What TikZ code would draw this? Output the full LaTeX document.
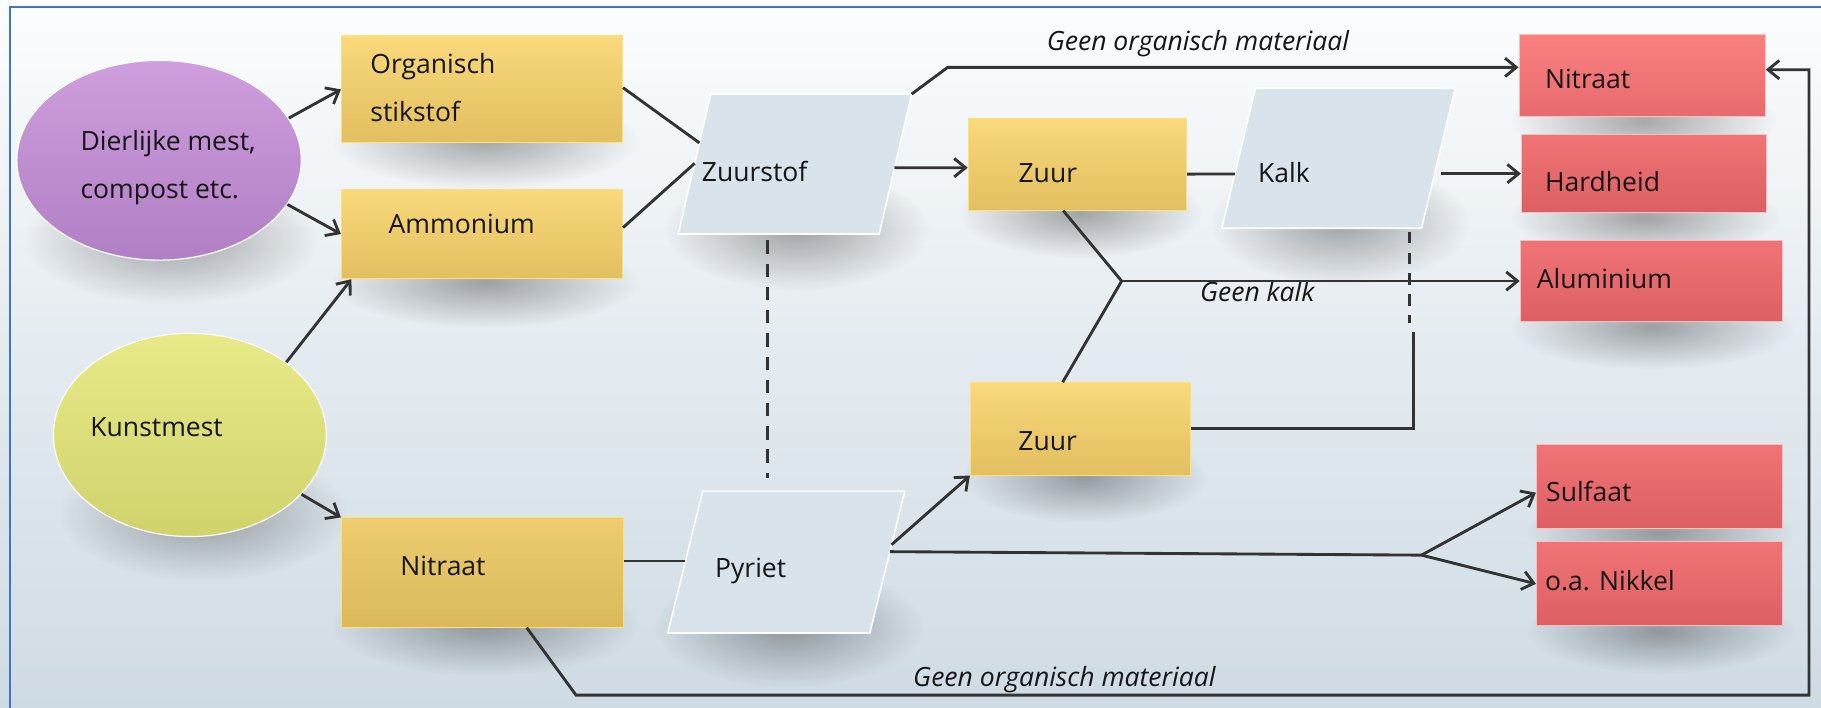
\documentclass[tikz,border=0pt]{standalone}
\usepackage{fontspec}
\setmainfont{Open Sans}
\usetikzlibrary{shapes.geometric,arrows.meta,fadings,calc}

\definecolor{bgtop}{HTML}{FCFDFE}
\definecolor{bgmid}{HTML}{E4EBF0}
\definecolor{bgbot}{HTML}{CFDBE4}
\definecolor{yeltop}{HTML}{F9D97C}
\definecolor{yelbot}{HTML}{E2BF60}
\definecolor{ydarktop}{HTML}{EDCD70}
\definecolor{ydarkbot}{HTML}{DAB95B}
\definecolor{redtop}{HTML}{F07476}
\definecolor{redbot}{HTML}{DC5F63}
\definecolor{redltop}{HTML}{FA8080}
\definecolor{redlbot}{HTML}{E76B6E}
\definecolor{paracol}{HTML}{D8E3EB}
\definecolor{purtop}{HTML}{CE9EDE}
\definecolor{purbot}{HTML}{B17FC4}
\definecolor{grntop}{HTML}{E8EA88}
\definecolor{grnbot}{HTML}{D0D26C}
\definecolor{lncol}{HTML}{333333}
\definecolor{framecol}{HTML}{4472C4}
\definecolor{txtcol}{HTML}{161616}

\tikzfading[name=softshadow, inner color=transparent!0, outer color=transparent!100]

\begin{document}
\begin{tikzpicture}[x=0.02cm, y=-0.02cm,
  txt/.style={anchor=base west, inner sep=0pt, text=txtcol, font=\fontsize{13pt}{15pt}\selectfont},
  itx/.style={txt, font=\fontsize{13pt}{15pt}\selectfont\itshape},
  shd/.style={fill=black, opacity=0.32, path fading=softshadow},
  ybox/.style={rectangle, draw=white!60!yellow!80!orange, line width=0.5pt, top color=yeltop, bottom color=yelbot, inner sep=0pt},
  rbox/.style={rectangle, draw=white!75!red, line width=0.5pt, top color=redtop, bottom color=redbot, inner sep=0pt},
  para/.style={fill=paracol, draw=white, line width=0.8pt, line join=miter},
  ell/.style={ellipse, draw=white, line width=0.6pt, inner sep=0pt},
  conn/.style={draw=lncol, line width=1.4pt},
  arr/.style={conn, -{Straight Barb[length=5.5pt, width=9pt]}},
]
\useasboundingbox (0,0) rectangle (1568,609);
\shade[top color=bgtop, bottom color=bgbot, middle color=bgmid] (0,0) rectangle (1568,609);
\draw[framecol, line width=1.1pt] (8.6,615) -- (8.6,5.7) -- (1575,5.7);

% soft shadows
\fill[shd] (20,150) rectangle (275,262);
\fill[shd] (50,385) rectangle (300,500);
\fill[shd] (285,80) rectangle (550,162);
\fill[shd] (285,205) rectangle (550,282);
\fill[shd] (285,495) rectangle (550,582);
\fill[shd] (825,145) rectangle (1035,222);
\fill[shd] (828,372) rectangle (1040,450);
\fill[shd] (572,145) rectangle (800,250);
\fill[shd] (1042,140) rectangle (1266,245);
\fill[shd] (563,488) rectangle (795,592);
\fill[shd] (1300,68) rectangle (1530,140);
\fill[shd] (1300,153) rectangle (1532,222);
\fill[shd] (1300,245) rectangle (1545,318);
\fill[shd] (1314,422) rectangle (1545,495);
\fill[shd] (1314,506) rectangle (1545,580);

% ellipses
\node[ell, top color=purtop, bottom color=purbot, minimum width=245*0.02cm, minimum height=172*0.02cm] (dier) at (137,138) {};
\node[ell, top color=grntop, bottom color=grnbot, minimum width=235*0.02cm, minimum height=175*0.02cm] (kunst) at (163.5,374.5) {};

% yellow boxes
\node[ybox, minimum width=242*0.02cm, minimum height=92*0.02cm] (org) at (415,77) {};
\node[ybox, minimum width=242*0.02cm, minimum height=77*0.02cm] (amm) at (415,201.5) {};
\node[ybox, top color=ydarktop, bottom color=ydarkbot, minimum width=243*0.02cm, minimum height=94*0.02cm] (nityel) at (415.5,493) {};
\node[ybox, minimum width=188*0.02cm, minimum height=79*0.02cm] (zuur1) at (927.7,141.4) {};
\node[ybox, minimum width=189.4*0.02cm, minimum height=79.5*0.02cm] (zuur2) at (930.3,369.3) {};

% parallelograms (corner coordinates)
\coordinate (zs-bl) at (584,201.5); \coordinate (zs-br) at (757,201.5);
\coordinate (zs-tr) at (785,81);    \coordinate (zs-tl) at (612,81);
\coordinate (ka-bl) at (1052,196.5); \coordinate (ka-br) at (1224,196.5);
\coordinate (ka-tr) at (1253,76);    \coordinate (ka-tl) at (1081,76);
\coordinate (py-bl) at (575,545); \coordinate (py-br) at (749,545);
\coordinate (py-tr) at (779,423); \coordinate (py-tl) at (605,423);
\path[para] (zs-bl) -- (zs-br) -- (zs-tr) -- (zs-tl) -- cycle;
\path[para] (ka-bl) -- (ka-br) -- (ka-tr) -- (ka-tl) -- cycle;
\path[para] (py-bl) -- (py-br) -- (py-tr) -- (py-tl) -- cycle;

% red boxes
\node[rbox, top color=redltop, bottom color=redlbot, minimum width=212*0.02cm, minimum height=70*0.02cm] (nitred) at (1414,65) {};
\node[rbox, minimum width=211*0.02cm, minimum height=67*0.02cm] (hard) at (1415.5,149.5) {};
\node[rbox, minimum width=226*0.02cm, minimum height=70*0.02cm] (alu) at (1422,242) {};
\node[rbox, minimum width=212*0.02cm, minimum height=72.5*0.02cm] (sulf) at (1429,419.2) {};
\node[rbox, minimum width=212*0.02cm, minimum height=72.5*0.02cm] (nik) at (1429,502.7) {};

% texts
\node[txt] (t-dier1) at (69,129.7) {Dierlijke mest,};
\node[txt] (t-dier2) at (69,170.7) {compost etc.};
\node[txt] (t-kunst) at (77.5,376) {Kunstmest};
\node[txt] (t-org1) at (318.6,63.7) {Organisch};
\node[txt] (t-org2) at (318.6,104.8) {stikstof};
\node[txt] (t-amm) at (334.3,200.9) {Ammonium};
\node[txt] (t-nity) at (344.4,495.5) {Nitraat};
\node[txt] (zs) at (604,156.5) {Zuurstof};
\node[txt] (pyr) at (615.4,497) {Pyriet};
\node[txt] (t-zuur1) at (876.7,157.3) {Zuur};
\node[txt] (t-zuur2) at (876.6,388) {Zuur};
\node[txt] (kalk) at (1083,157) {Kalk};
\node[txt] (t-nitr) at (1330,76) {Nitraat};
\node[txt] (t-hard) at (1330,165) {Hardheid};
\node[txt] (t-alu) at (1323,248.5) {Aluminium};
\node[txt] (t-sulf) at (1331,431.5) {Sulfaat};
\node[txt] (t-nik) at (1330,508.5) {o.a. Nikkel};
\node[itx] (l-top) at (901,43.5) {Geen organisch materiaal};
\node[itx] (l-kalk) at (1033,260) {Geen kalk};
\node[itx] (l-bot) at (786,591.5) {Geen organisch materiaal};

% connector points on the parallelograms and way points
\coordinate (zs-in1) at (602.2,123);
\coordinate (zs-in2) at (598.1,140.7);
\coordinate (zs-out) at (770,144.4);
\coordinate (ka-in) at (1063.2,149.8);
\coordinate (ka-out) at (1241,149.5);
\coordinate (py-in) at (590.2,483);
\coordinate (py-out1) at (767.7,469);
\coordinate (py-out2) at (766.2,475);
\coordinate (br1) at (965.8,242);
\coordinate (br2) at (1224,478);
\coordinate (solidtop) at (1217,285.6);
\coordinate (dk1) at (1214,199.5);
\coordinate (dk2) at (1214,278);
\coordinate (dz1) at (661,207);
\coordinate (dz2) at (661,411.5);
\coordinate (r1) at (496,598.5);
\coordinate (r2) at (1557.6,598.5);
\coordinate (r3) at (1557.6,60);

% connectors
\draw[arr] (dier.18) -- (org.west);
\draw[arr] (dier.-19) -- (amm.west);
\draw[arr] (kunst.37) -- ([xshift=0.18cm]amm.south west);
\draw[arr] (kunst.-28) -- (nityel.north west);
\draw[conn] ([yshift=0.03cm]org.east) -- (zs-in1);
\draw[conn] ([yshift=0.11cm]amm.east) -- (zs-in2);
\draw[arr] (zs-out) -- ([yshift=-0.06cm]zuur1.west);
\draw[conn] ([yshift=-0.17cm]zuur1.east) -- (ka-in);
\draw[arr] (ka-out) -- (hard.west);
\draw[arr] (zs-tr) -- ++(31,-23) -- ([yshift=0.14cm]nitred.west);
\draw[conn] ([xshift=-0.244cm]zuur1.south) -- (br1);
\draw[conn] ([xshift=-0.306cm]zuur2.north) -- (br1);
\draw[arr] (br1) -- (alu.west);
\draw[conn] (zuur2.east) -| (solidtop);
\draw[conn, dash pattern=on 0.2cm off 0.16cm] (dk1) -- (dk2);
\draw[conn, dash pattern=on 0.23cm off 0.17cm] (dz1) -- (dz2);
\draw[conn] (nityel.east |- py-in) -- (py-in);
\draw[arr] (py-out1) -- (zuur2.south west);
\draw[conn] (py-out2) -- (br2);
\draw[arr] (br2) -- ([yshift=-0.1cm]sulf.west);
\draw[arr] (br2) -- (nik.west);
\draw[arr] ([xshift=0.76cm]nityel.south) -- (r1) -- (r2) -- (r3) -- ([yshift=0.1cm]nitred.east);
\end{tikzpicture}
\end{document}
